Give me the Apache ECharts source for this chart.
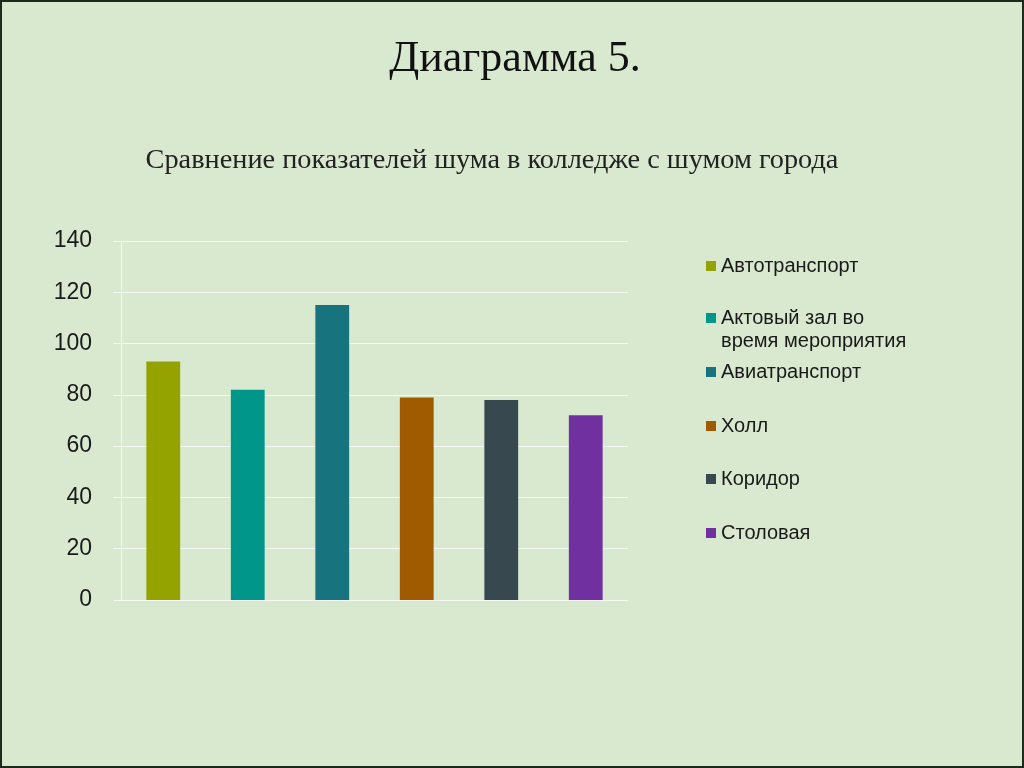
<!DOCTYPE html>
<html><head><meta charset="utf-8">
<script src="https://cdn.jsdelivr.net/npm/echarts@6/dist/echarts.min.js"></script>
<style>
html,body{margin:0;padding:0;background:#d8e9d0;}
#c{position:absolute;left:0;top:0;width:1024px;height:768px;}
#frame{position:absolute;left:0;top:0;width:1024px;height:768px;box-sizing:border-box;border:2px solid #1b2a1b;pointer-events:none;}
</style></head>
<body>
<div id="c"></div><div id="frame"></div>
<script>
const names = ['Автотранспорт','Актовый зал во\nвремя мероприятия','Авиатранспорт','Холл','Коридор','Столовая'];
const values = [93, 82, 115, 79, 78, 72];
const colors = ['#94a300','#00978a','#17737d','#a05b00','#37494f','#7030a0'];
const yTicks = [0,20,40,60,80,100,120,140];

const chart = echarts.init(document.getElementById('c'));
const series = names.map((n,i)=>({
  name:n, type:'bar', stack:'all', barWidth:'40%',
  itemStyle:{color:colors[i]},
  data: values.map((v,j)=> j===i ? v : '-')
}));
const legendCenters = [266, 329.5, 372, 426, 479, 533];
const legends = names.map((n,i)=>{
  const two = n.indexOf('\n')>=0;
  const h = two ? 46 : 23;
  return {
    data:[n], left:706, top:legendCenters[i]-h/2, orient:'vertical',
    icon: two ? 'path://M0,0L10,0L10,10L0,10Z M0,33' : 'rect',
    itemWidth: 10, itemHeight: two ? 33 : 10, itemGap:4, padding:0,
    textStyle:{fontFamily:'Liberation Sans, Arial, sans-serif', fontSize:20, color:'#1a1a1a', lineHeight:23},
    selectedMode:false
  };
});
chart.setOption({
  backgroundColor:'#d8e9d0',
  animation:false,
  title:[
    {text:'Диаграмма 5.', left:510, textAlign:'center', top:32,
     textStyle:{fontFamily:'Liberation Serif, Times New Roman, serif', fontWeight:'normal', fontSize:44, color:'#111'}},
    {text:'Сравнение показателей шума в колледже с шумом города', left:487, textAlign:'center', top:142,
     textStyle:{fontFamily:'Liberation Serif, Times New Roman, serif', fontWeight:'normal', fontSize:28.3, color:'#222'}}
  ],
  legend:legends,
  grid:{left:121, right:396, top:241, bottom:168, containLabel:false},
  xAxis:{type:'category', data:names.map((n,i)=>String(i)),
    axisLabel:{show:false}, axisTick:{show:false},
    axisLine:{lineStyle:{color:'#f4f8f2', width:1}}},
  yAxis:{type:'value', min:0, max:140, interval:20,
    axisLine:{show:true, lineStyle:{color:'#f4f8f2'}},
    axisTick:{show:true, length:8, lineStyle:{color:'#f4f8f2'}},
    splitLine:{lineStyle:{color:'#f4f8f2', width:1}},
    axisLabel:{margin:29, fontFamily:'Liberation Sans, Arial, sans-serif', fontSize:23, color:'#1a1a1a',
      formatter:v=> yTicks.includes(v)? String(v):''}},
  series
});
</script>
</body></html>
